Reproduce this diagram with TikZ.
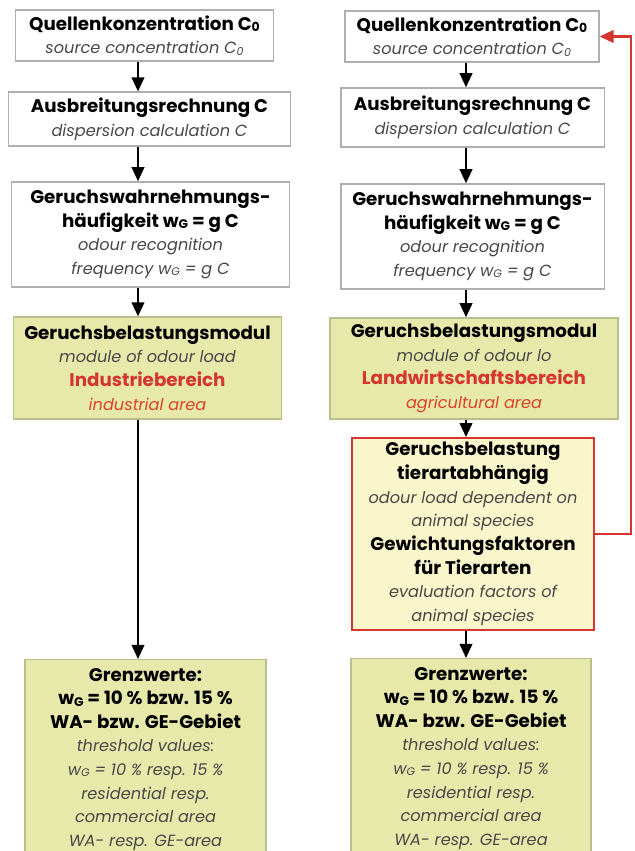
\documentclass[tikz,border=0pt]{standalone}
\usepackage{fontspec}
\setmainfont{Poppins}
\usetikzlibrary{positioning,arrows.meta}
\definecolor{gkgreen}{RGB}{230,233,170}
\definecolor{gkyellow}{RGB}{250,246,204}
\definecolor{gkred}{RGB}{214,52,46}
\definecolor{gkgrey}{RGB}{175,175,175}
\definecolor{gkline}{RGB}{185,190,140}
\definecolor{gktext}{RGB}{72,72,72}
\makeatletter
\newcommand{\sub}[1]{\raisebox{-0.15ex}{\fontsize{\fpeval{0.68*\f@size}}{0}\selectfont #1}}
\makeatother
\newcommand{\de}[1]{\textbf{#1}}
\newcommand{\en}[1]{{\fontsize{11.5}{16.8}\selectfont\itshape\color{gktext}#1}}

\begin{document}
\begin{tikzpicture}[x=0.025cm, y=-0.025cm]
    % Define styles
    \tikzset{
        box/.style={rectangle, align=center, inner sep=2pt,
            font=\fontsize{13}{16.8}\selectfont},
        plain/.style={box, draw=gkgrey, line width=0.9pt, fill=white},
        module/.style={box, draw=gkline, line width=0.9pt, fill=gkgreen},
        animal/.style={box, draw=gkred, line width=1.3pt, fill=gkyellow},
        flow/.style={line width=1.3pt, -{Triangle[length=10pt,width=9pt]}},
        back/.style={flow, line width=1.5pt, draw=gkred}
    }
    \clip (0,0) rectangle (634,851);
    \fill[white] (0,0) rectangle (634,851);

    % Columns
    \coordinate (lcol) at (138,0);
    \coordinate (rcol) at (466,0);
    \coordinate (ret) at (631,0);

    % Left chain
    \node[plain, minimum width=6.43cm, minimum height=1.28cm] (l1) at (144.5,35.5)
        {\de{Quellenkonzentration C\sub{0}}\\ \en{source concentration C\sub{0}}};
    \node[plain, minimum width=7.03cm, minimum height=1.35cm] (l2) at (149.5,119)
        {\de{Ausbreitungsrechnung C}\\ \en{dispersion calculation C}};
    \node[plain, minimum width=6.93cm, minimum height=2.63cm] (l3) at (150.5,234.5)
        {\de{Geruchswahrnehmungs-}\\ \de{häufigkeit w\sub{G} = g C}\\
         \en{odour recognition}\\ \en{frequency w\sub{G} = g C}};
    \node[module, minimum width=6.68cm, minimum height=2.55cm] (l4) at (147.5,368)
        {\de{Geruchsbelastungsmodul}\\ \en{module of odour load}\\
         \de{\color{gkred}Industriebereich}\\ \en{\color{gkred!80!orange}industrial area}};
    \node[module, minimum width=6.03cm, anchor=north, inner ysep=6pt] (l5) at (145.5,659)
        {\de{Grenzwerte:}\\ \de{w\sub{G} = 10 \% bzw. 15 \%}\\ \de{WA- bzw. GE-Gebiet}\\
         \en{threshold values:}\\ \en{w\sub{G} = 10 \% resp. 15 \%}\\ \en{residential resp.}\\
         \en{commercial area}\\ \en{WA- resp. GE-area}};

    % Right chain
    \node[plain, minimum width=6.35cm, minimum height=1.28cm] (r1) at (472,36.5)
        {\de{Quellenkonzentration C\sub{0}}\\ \en{source concentration C\sub{0}}};
    \node[plain, minimum width=6.58cm, minimum height=1.48cm] (r2) at (472.5,117.5)
        {\de{Ausbreitungsrechnung C}\\ \en{dispersion calculation C}};
    \node[plain, minimum width=6.58cm, minimum height=2.63cm] (r3) at (472.5,236.5)
        {\de{Geruchswahrnehmungs-}\\ \de{häufigkeit w\sub{G} = g C}\\
         \en{odour recognition}\\ \en{frequency w\sub{G} = g C}};
    \node[module, minimum width=7.2cm, minimum height=2.53cm] (r4) at (474,368.5)
        {\de{Geruchsbelastungsmodul}\\ \en{module of odour lo}\\
         \de{\color{gkred}Landwirtschaftsbereich}\\ \en{\color{gkred!80!orange}agricultural area}};
    \node[animal, minimum width=6.05cm, minimum height=4.8cm] (r5) at (473,534)
        {\de{Geruchsbelastung}\\ \de{tierartabhängig}\\
         \en{odour load dependent on}\\ \en{animal species}\\
         \de{Gewichtungsfaktoren}\\ \de{für Tierarten}\\
         \en{evaluation factors of}\\ \en{animal species}};
    \node[module, minimum width=6.0cm, anchor=north, inner ysep=6pt] (r6) at (471,658)
        {\de{Grenzwerte:}\\ \de{w\sub{G} = 10 \% bzw. 15 \%}\\ \de{WA- bzw. GE-Gebiet}\\
         \en{threshold values:}\\ \en{w\sub{G} = 10 \% resp. 15 \%}\\ \en{residential resp.}\\
         \en{commercial area}\\ \en{WA- resp. GE-area}};

    % Arrows
    \draw[flow] (l1.south -| lcol) -- (l2.north -| lcol);
    \draw[flow] (l2.south -| lcol) -- (l3.north -| lcol);
    \draw[flow] (l3.south -| lcol) -- (l4.north -| lcol);
    \draw[flow] (l4.south -| lcol) -- (l5.north -| lcol);
    \draw[flow] (r1.south -| rcol) -- (r2.north -| rcol);
    \draw[flow] (r2.south -| rcol) -- (r3.north -| rcol);
    \draw[flow] (r3.south -| rcol) -- (r4.north -| rcol);
    \draw[flow] (r4.south -| rcol) -- (r5.north -| rcol);
    \draw[flow] (r5.south -| rcol) -- (r6.north -| rcol);

    % Feedback loop
    \draw[back] (r5.east) -- (r5.east -| ret) |- (r1.east);
\end{tikzpicture}
\end{document}
